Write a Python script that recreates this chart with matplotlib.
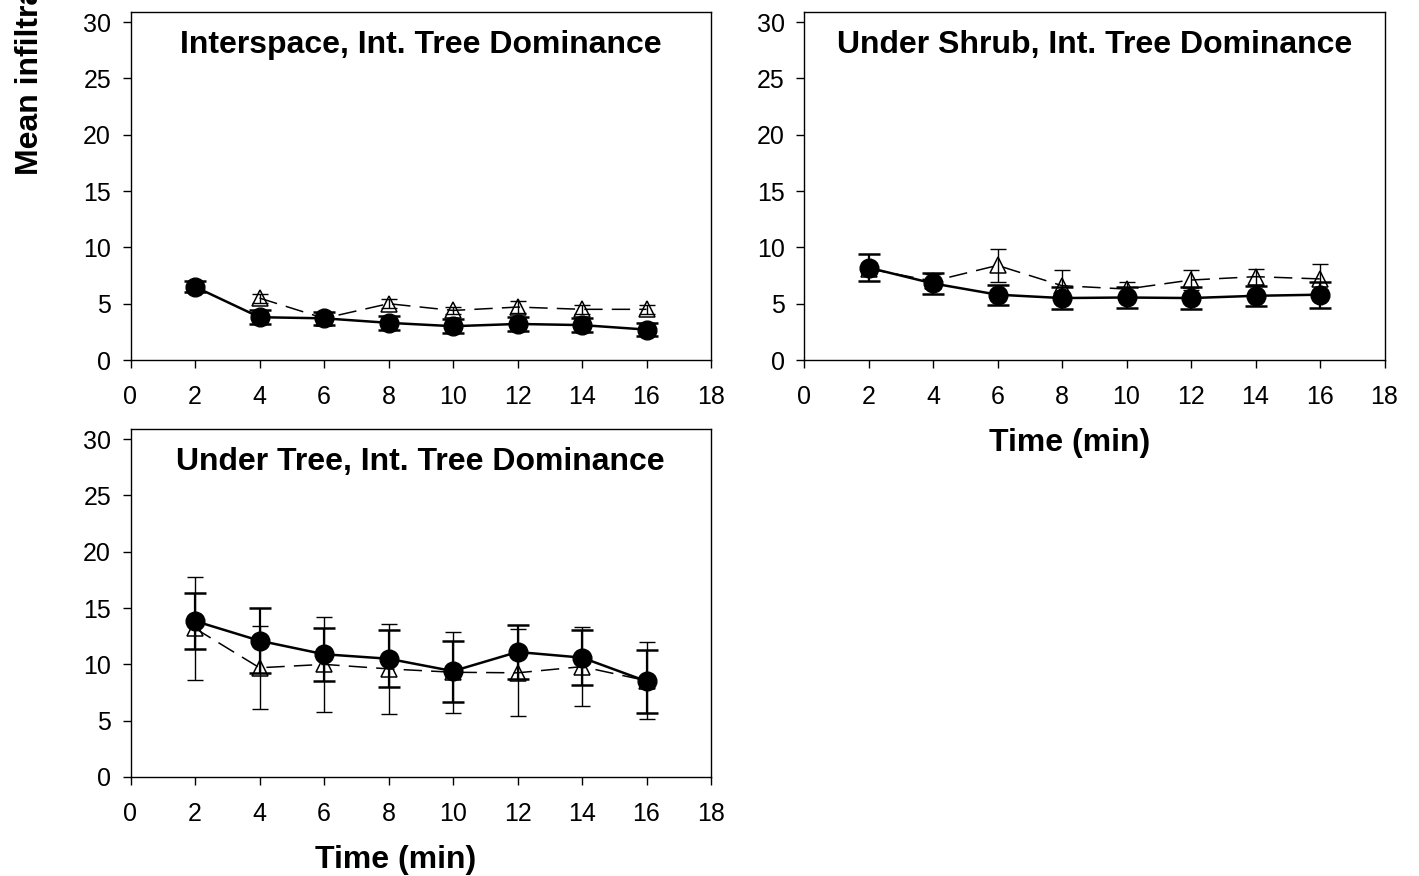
import matplotlib
matplotlib.use("Agg")
import matplotlib.pyplot as plt
import numpy as np

plt.rcParams["font.family"] = ["Liberation Sans", "DejaVu Sans"]

# ── Datos ──────────────────────────────────────────────────────────────────
time_min = [2, 4, 6, 8, 10, 12, 14, 16]

titles = [
    "Interspace, Int. Tree Dominance",
    "Under Shrub, Int. Tree Dominance",
    "Under Tree, Int. Tree Dominance",
]

# filled circles
inter_circ = [6.5, 3.8, 3.7, 3.3, 3.0, 3.2, 3.1, 2.7]
inter_circ_err = [0.5, 0.6, 0.6, 0.6, 0.6, 0.6, 0.6, 0.6]
shrub_circ = [8.2, 6.8, 5.8, 5.5, 5.55, 5.5, 5.7, 5.8]
shrub_circ_err = [1.2, 0.9, 0.9, 0.95, 0.9, 0.95, 0.9, 1.15]
tree_circ = [13.85, 12.1, 10.9, 10.5, 9.4, 11.1, 10.6, 8.5]
tree_circ_err = [2.5, 2.9, 2.35, 2.55, 2.7, 2.4, 2.45, 2.8]

# open triangles
inter_tri = [np.nan, 5.5, 3.7, 5.0, 4.4, 4.7, 4.5, 4.5]
inter_tri_err = [np.nan, 0.4, 0.3, 0.4, 0.3, 0.5, 0.4, 0.4]
shrub_tri = [8.1, 7.0, 8.4, 6.6, 6.3, 7.1, 7.4, 7.2]
shrub_tri_err = [0.5, 0.6, 1.5, 1.4, 0.6, 0.9, 0.7, 1.3]
tree_tri = [13.2, 9.7, 10.0, 9.6, 9.3, 9.25, 9.8, 8.55]
tree_tri_err = [4.6, 3.7, 4.2, 4.0, 3.6, 3.85, 3.5, 3.4]

x_ticks = [0, 2, 4, 6, 8, 10, 12, 14, 16, 18]
y_ticks = [0, 5, 10, 15, 20, 25, 30]

panels = [
    (titles[0], inter_circ, inter_circ_err, inter_tri, inter_tri_err),
    (titles[1], shrub_circ, shrub_circ_err, shrub_tri, shrub_tri_err),
    (titles[2], tree_circ, tree_circ_err, tree_tri, tree_tri_err),
]

# ── Layout (figure fractions) ─────────────────────────────────────────────
W, H = 1419, 876
pos = [
    [130.5 / W, 1 - 360 / H, 580.5 / W, 348 / H],
    [804 / W, 1 - 360 / H, 580.5 / W, 348 / H],
    [130.5 / W, 1 - 777 / H, 580.5 / W, 348 / H],
]

fig = plt.figure(figsize=(W / 100, H / 100), dpi=100, facecolor="white")

for i, (title, cm, ce, tm, te) in enumerate(panels):
    ax = fig.add_axes(pos[i])

    # triangles (dashed)
    ax.errorbar(time_min, tm, yerr=te, fmt="none", ecolor="black",
                elinewidth=1.0, capsize=6, capthick=1.0, zorder=2)
    ax.plot(time_min, tm, color="black", lw=1.1, dashes=[12, 6],
            marker="^", ms=11, mfc="none", mec="black", mew=1.1, zorder=3)

    # circles (solid)
    ax.errorbar(time_min, cm, yerr=ce, fmt="none", ecolor="black",
                elinewidth=1.6, capsize=8, capthick=1.8, zorder=4)
    ax.plot(time_min, cm, color="black", lw=1.8, marker="o", ms=13.5,
            mfc="black", mec="black", zorder=5)

    ax.set_xlim(0, 18)
    ax.set_ylim(0, 30.9)
    ax.set_xticks(x_ticks)
    ax.set_yticks(y_ticks)
    ax.tick_params(axis="both", direction="out", length=6, width=1.0,
                   labelsize=18, colors="black")
    ax.tick_params(axis="x", pad=12)
    ax.tick_params(axis="y", pad=8)
    for spine in ax.spines.values():
        spine.set_color("black")
        spine.set_linewidth(1.0)

    ax.text(0.5, 0.905, title, transform=ax.transAxes, ha="center",
            va="center", fontsize=23, fontweight="bold")

    if i in (1, 2):
        ax.set_xlabel("Time (min)", fontsize=23, fontweight="bold")
        ax.xaxis.set_label_coords(0.457, -0.195)

# y label (cut off at the top edge in the original)
fig.text(30 / W, 1 - 175 / H, "Mean infiltration rate (mm/min)",
         rotation=90, ha="center", va="bottom", fontsize=23,
         fontweight="bold")

fig.savefig("out.png", dpi=100, facecolor="white")
plt.close(fig)
